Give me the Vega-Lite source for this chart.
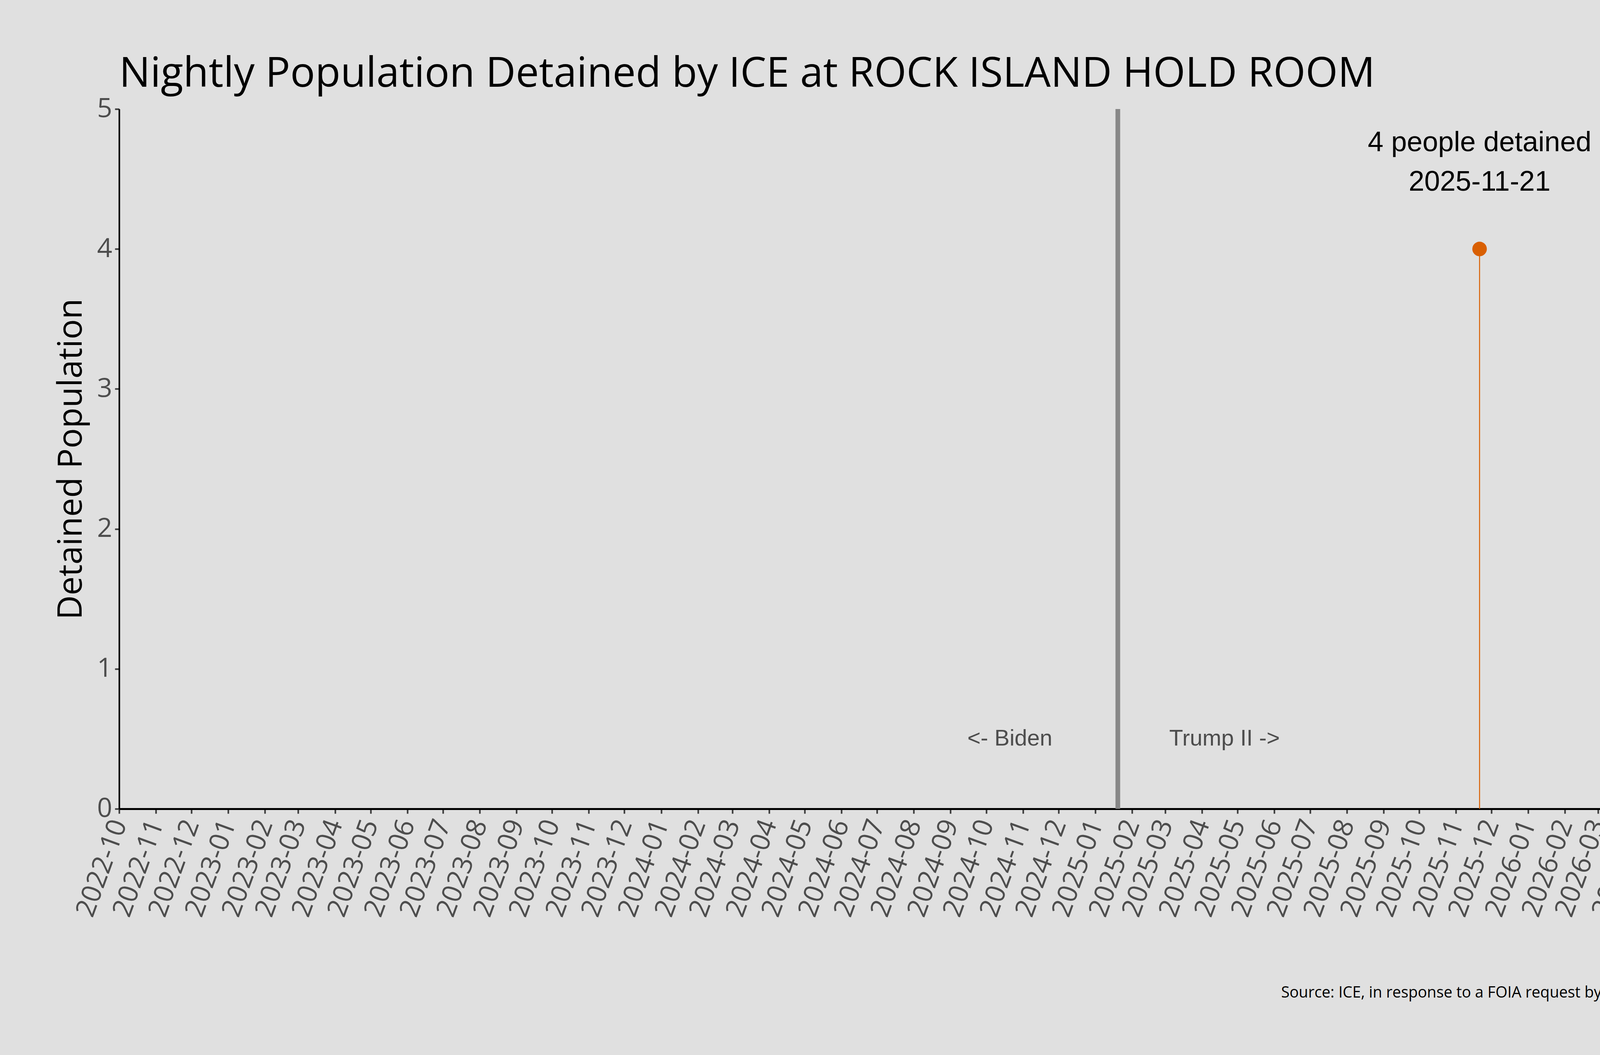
{
  "$schema": "https://vega.github.io/schema/vega-lite/v6.json",
  "autosize": {"type": "fit", "contains": "padding"},
  "width": 4800,
  "height": 2700,
  "padding": {"left": 139, "top": 137, "right": 153, "bottom": 139},
  "background": "#e0e0e0",
  "title": {
    "text": "Nightly Population Detained by ICE at ROCK ISLAND HOLD ROOM",
    "anchor": "start",
    "frame": "group",
    "font": "Open Sans",
    "fontSize": 106,
    "fontWeight": "normal",
    "color": "#000000",
    "offset": 1
  },
  "config": {
    "view": {"stroke": null},
    "axis": {"grid": false}
  },
  "datasets": {
    "detained": [
      {"date": "2025-11-21", "population": 4, "label": "4 people detained\n2025-11-21"}
    ],
    "events": [
      {"date": "2025-01-20", "event": "Inauguration"}
    ],
    "eras": [
      {"date": "2024-10-21", "label": "<- Biden"},
      {"date": "2025-04-20", "label": "Trump II ->"}
    ]
  },
  "encoding": {
    "x": {
      "field": "date",
      "type": "temporal",
      "scale": {"domain": ["2022-10-01", "2026-08-31"], "nice": false},
      "axis": {
        "title": ["Chart: Adam Sawyer.", "Source: ICE, in response to a FOIA request by the Deportation Data Project."],
        "titleAnchor": "end",
        "titleAlign": "right",
        "titleFont": "Open Sans",
        "titleFontSize": 39.3,
        "titleFontWeight": "normal",
        "titleColor": "#000000",
        "titleLineHeight": 44,
        "titlePadding": 207,
        "format": "%Y-%m",
        "tickCount": {"interval": "month", "step": 1},
        "labelAngle": -70,
        "labelAlign": "right",
        "labelBaseline": "middle",
        "labelFont": "Open Sans",
        "labelFontSize": 69,
        "labelColor": "#4d4d4d",
        "labelPadding": 18,
        "labelLimit": 0,
        "labelOverlap": false,
        "labelBound": false,
        "labelFlush": false,
        "domainColor": "#000000",
        "domainWidth": 5,
        "tickColor": "#3a3a3a",
        "tickWidth": 4,
        "tickSize": 12
      }
    }
  },
  "layer": [
    {
      "data": {"name": "events"},
      "mark": {"type": "rule", "color": "#888888", "strokeWidth": 12},
      "encoding": {}
    },
    {
      "data": {"name": "detained"},
      "mark": {"type": "rule", "color": "#d95f02", "strokeWidth": 2.5},
      "encoding": {
        "y": {"field": "population", "type": "quantitative"},
        "y2": {"datum": 0}
      }
    },
    {
      "data": {"name": "detained"},
      "mark": {"type": "circle", "color": "#d95f02", "size": 1385, "opacity": 1},
      "encoding": {
        "y": {
          "field": "population",
          "type": "quantitative",
          "scale": {"domain": [0, 5], "nice": false},
          "axis": {
            "title": "Detained Population",
            "titleFont": "Open Sans",
            "titleFontSize": 86,
            "titleFontWeight": "normal",
            "titleColor": "#000000",
            "titlePadding": 22,
            "values": [0, 1, 2, 3, 4, 5],
            "format": "d",
            "labelFont": "Open Sans",
            "labelFontSize": 68,
            "labelColor": "#4d4d4d",
            "labelPadding": 7,
            "domainColor": "#000000",
            "domainWidth": 4,
            "tickColor": "#3a3a3a",
            "tickWidth": 4,
            "tickSize": 11
          }
        }
      }
    },
    {
      "data": {"name": "detained"},
      "mark": {
        "type": "text",
        "font": "Liberation Sans",
        "fontSize": 72,
        "color": "#000000",
        "align": "center",
        "baseline": "alphabetic",
        "lineBreak": "\n",
        "lineHeight": 101,
        "dy": -250
      },
      "encoding": {
        "y": {"field": "population", "type": "quantitative"},
        "text": {"field": "label"}
      }
    },
    {
      "data": {"name": "eras"},
      "mark": {
        "type": "text",
        "font": "Liberation Sans",
        "fontSize": 58,
        "color": "#4d4d4d",
        "align": "center",
        "baseline": "middle"
      },
      "encoding": {
        "y": {"datum": 0.5, "type": "quantitative"},
        "text": {"field": "label"}
      }
    }
  ]
}
